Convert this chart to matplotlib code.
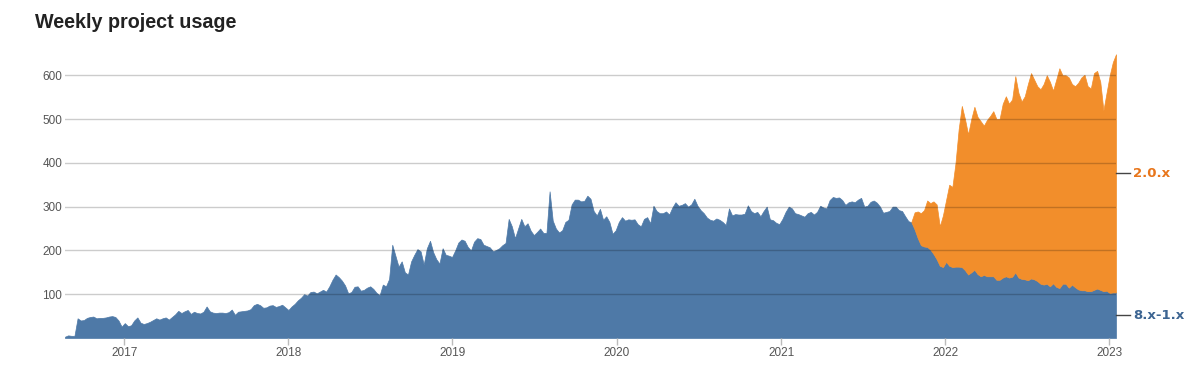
import matplotlib
matplotlib.use('Agg')
import matplotlib.pyplot as plt
import matplotlib.transforms as mtransforms
import pandas as pd

# Weekly project usage (one value per week)
blue_label = '8.x-1.x'
orange_label = '2.0.x'
blue_start = '2016-08-22'
orange_start = '2021-10-18'

blue_values = [
    3, 6, 5, 5, 45, 40, 41, 46, 48, 49,
    45, 46, 46, 47, 49, 50, 48, 40, 26, 34,
    27, 29, 40, 47, 35, 32, 34, 37, 41, 45,
    42, 45, 47, 42, 48, 54, 62, 57, 61, 64,
    55, 60, 57, 56, 60, 72, 61, 58, 57, 58,
    58, 57, 59, 65, 53, 60, 61, 62, 63, 66,
    75, 78, 75, 69, 70, 74, 75, 71, 73, 76,
    70, 64, 72, 78, 86, 92, 100, 97, 105, 106,
    102, 106, 110, 106, 118, 133, 145, 139, 131, 120,
    102, 105, 117, 118, 108, 110, 115, 118, 112, 103,
    98, 122, 118, 135, 213, 188, 163, 175, 150, 145,
    175, 190, 203, 198, 168, 205, 222, 196, 180, 170,
    205, 190, 188, 185, 200, 218, 225, 222, 208, 200,
    220, 228, 226, 213, 210, 207, 198, 201, 205, 212,
    217, 272, 255, 228, 250, 272, 255, 262, 245, 235,
    242, 250, 240, 240, 335, 268, 250, 241, 246, 265,
    270, 305, 316, 316, 312, 313, 325, 318, 290, 280,
    295, 270, 278, 265, 238, 246, 265, 276, 268, 271,
    270, 271, 260, 255, 272, 276, 262, 302, 290, 285,
    285, 289, 282, 298, 310, 302, 304, 308, 300, 305,
    318, 302, 292, 285, 275, 270, 268, 273, 270, 265,
    258, 296, 280, 283, 282, 282, 284, 303, 290, 285,
    288, 278, 290, 300, 271, 269, 263, 260, 272, 288,
    300, 296, 285, 283, 280, 277, 285, 288, 282, 288,
    302, 298, 296, 315, 322, 320, 321, 315, 304, 310,
    312, 310, 316, 320, 300, 302, 311, 314, 309, 300,
    286, 288, 290, 300, 300, 292, 290, 278, 267, 264,
    248, 228, 212, 209, 208, 202, 192, 180, 165, 162,
    174, 165, 162, 163, 163, 162, 155, 145, 150, 156,
    146, 141, 144, 141, 141, 141, 133, 133, 138, 141,
    138, 140, 150, 138, 135, 134, 132, 136, 134, 130,
    124, 122, 124, 118, 125, 117, 114, 124, 124, 115,
    122, 116, 111, 109, 109, 107, 107, 110, 113, 110,
    107, 108, 103, 104, 104,
]

orange_values = [
    2, 39, 61, 73, 83, 106, 106, 120, 125, 90,
    118, 141, 185, 183, 237, 314, 368, 345, 320, 350,
    372, 359, 354, 341, 357, 366, 377, 367, 367, 397,
    411, 397, 405, 448, 422, 405, 418, 448, 469, 456,
    445, 444, 458, 476, 467, 440, 473, 502, 476, 476,
    480, 458, 459, 472, 486, 492, 468, 463, 495, 497,
    475, 413, 452, 497, 526, 544,
]

year_ticks = [2017, 2018, 2019, 2020, 2021, 2022, 2023]
y_ticks = [100, 200, 300, 400, 500, 600]

BLUE = '#4e79a7'
ORANGE = '#f28e2b'

blue_dates = pd.date_range(blue_start, periods=len(blue_values), freq='7D')
orange_dates = pd.date_range(orange_start, periods=len(orange_values), freq='7D')
base = pd.Series(blue_values, index=blue_dates).loc[orange_dates].values
top = base + pd.Series(orange_values).values

fig = plt.figure(figsize=(11.97, 3.70), dpi=100)
ax = fig.add_axes([65 / 1197, 1 - 338 / 370, (1116 - 65) / 1197, (338 - 49) / 370])

ax.fill_between(blue_dates, 0, blue_values, color=BLUE, lw=0.5, edgecolor=BLUE, zorder=1)
ax.fill_between(orange_dates, base, top, color=ORANGE, lw=0.5, edgecolor=ORANGE, zorder=1)

ax.set_xlim(blue_dates[0], blue_dates[-1])
ax.set_ylim(0, 660)

# grid lines sit on top of the areas, like the original
for v in y_ticks:
    ax.axhline(v, color='black', alpha=0.2, lw=1, zorder=3)

ax.set_yticks(y_ticks)
ax.set_xticks([pd.Timestamp(f'{y}-01-01') for y in year_ticks])
ax.set_xticklabels([str(y) for y in year_ticks])
for s in ax.spines.values():
    s.set_visible(False)
ax.tick_params(axis='y', length=0, pad=2, labelsize=8.5, labelcolor='#555555')
ax.tick_params(axis='x', length=5, width=1, color='#bbbbbb', pad=1.5,
               labelsize=8.5, labelcolor='#555555')
for lbl in ax.get_xticklabels() + ax.get_yticklabels():
    lbl.set_family('Liberation Sans')

# series labels on the right, at the middle of each band
trans = mtransforms.blended_transform_factory(ax.transAxes, ax.transData)
label_pos = [
    (blue_label, blue_values[-1] / 2, '#3d6592'),
    (orange_label, blue_values[-1] + orange_values[-1] / 2, '#e8761c'),
]
for text, yv, col in label_pos:
    ax.plot([1.0, 1.0135], [yv, yv], color='#444444', lw=1, transform=trans, clip_on=False)
    ax.text(1.0165, yv, text, transform=trans, ha='left', va='center',
            fontsize=9.5, fontweight='bold', color=col, family='DejaVu Sans')

fig.text(35 / 1197, 1 - 22 / 370, 'Weekly project usage', ha='left', va='center',
         fontsize=14.2, fontweight='bold', color='#222222', family='Liberation Sans')

fig.savefig('out.png', dpi=100)
